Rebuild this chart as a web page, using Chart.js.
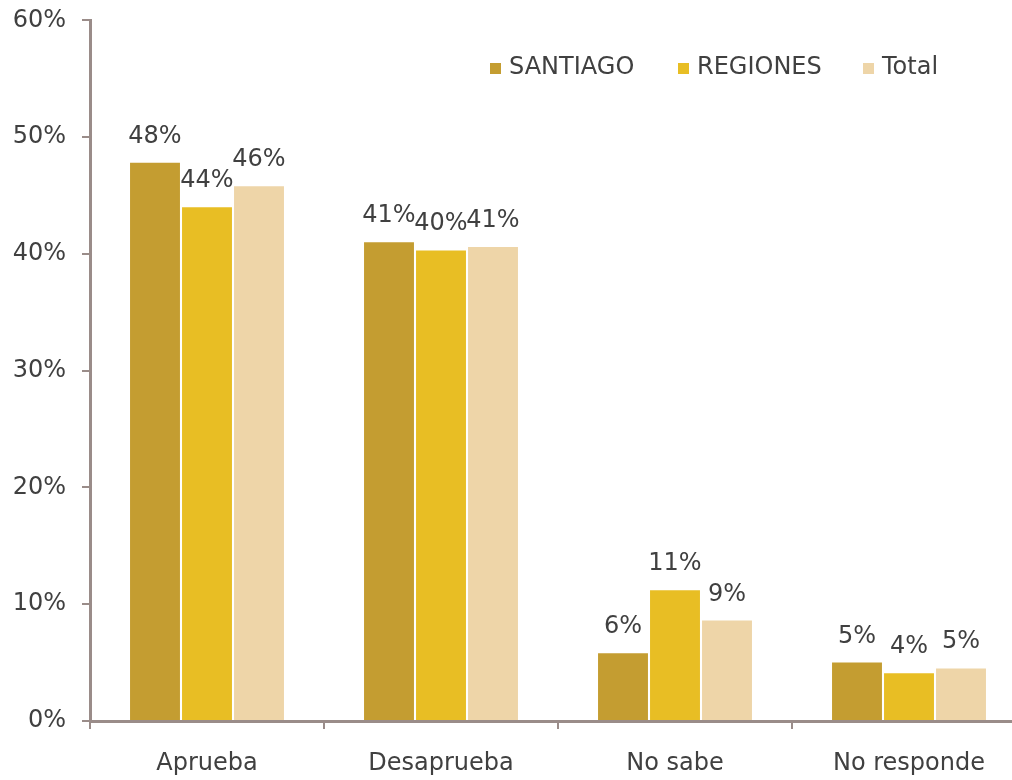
<!DOCTYPE html>
<html><head><meta charset="utf-8">
<script src="https://cdn.jsdelivr.net/npm/chart.js@4"></script>
<style>html,body{margin:0;padding:0;overflow:hidden;background:#fff;width:1012px;height:780px}
#wrap{width:1030px;height:790px;position:relative;margin-top:-10px}</style>
</head><body><div id="wrap"><canvas id="c" width="1030" height="790"></canvas></div>
<script>
const categories = ["Aprueba", "Desaprueba", "No sabe", "No responde"];
const santiago = [47.8, 41.0, 5.8, 5.0];
const regiones = [44.0, 40.3, 11.2, 4.1];
const total = [45.8, 40.6, 8.6, 4.5];
const seriesNames = ["SANTIAGO", "REGIONES", "Total"];
const yTicks = [0, 10, 20, 30, 40, 50, 60];

const FONT = "DejaVu Sans";
const FS = 24;
const TXT = "#404040";
const AXIS = "#9a8c89";
const colors = ["#C49D31", "#E8BE24", "#EED5A8"];

const labelPlugin = {
  id: "vals",
  afterDatasetsDraw(chart) {
    const ctx = chart.ctx;
    ctx.save();
    ctx.font = FS + "px " + FONT;
    ctx.fillStyle = TXT;
    ctx.textAlign = "center";
    ctx.textBaseline = "alphabetic";
    chart.data.datasets.forEach((ds, i) => {
      chart.getDatasetMeta(i).data.forEach((bar, j) => {
        ctx.fillText(Math.round(ds.data[j]) + "%", bar.x, bar.y - 20);
      });
    });
    ctx.restore();
  }
};
const legendX = [490, 678, 863];
const legendPlugin = {
  id: "leg",
  afterDraw(chart) {
    const ctx = chart.ctx;
    ctx.save();
    ctx.font = FS + "px " + FONT;
    ctx.textBaseline = "middle";
    const y = 78;
    chart.data.datasets.forEach((ds, i) => {
      const x = legendX[i];
      ctx.fillStyle = ds.backgroundColor;
      ctx.fillRect(x, y - 5, 11, 11);
      ctx.fillStyle = TXT;
      ctx.fillText(ds.label, x + 19, y);
    });
    ctx.restore();
  }
};

new Chart(document.getElementById("c"), {
  type: "bar",
  data: {
    labels: categories,
    datasets: [
      { label: seriesNames[0], data: santiago, backgroundColor: colors[0] },
      { label: seriesNames[1], data: regiones, backgroundColor: colors[1] },
      { label: seriesNames[2], data: total, backgroundColor: colors[2] }
    ]
  },
  options: {
    responsive: false,
    animation: false,
    devicePixelRatio: 1,
    layout: { padding: { top: 8, right: 4, left: 0, bottom: 0 } },
    datasets: { bar: { categoryPercentage: 0.6667, barPercentage: 0.96 } },
    plugins: { legend: { display: false }, tooltip: { enabled: false } },
    scales: {
      x: {
        grid: { offset: true, drawOnChartArea: false, drawTicks: true, tickLength: 8, color: AXIS, lineWidth: 2 },
        border: { color: AXIS, width: 3 },
        ticks: { color: TXT, font: { family: FONT, size: FS }, padding: 20 },
        afterFit(s) { s.height = 59; }
      },
      y: {
        min: 0, max: 60,
        afterBuildTicks(s) { s.ticks = yTicks.map(v => ({ value: v })); },
        grid: { drawOnChartArea: false, drawTicks: true, tickLength: 8, color: AXIS, lineWidth: 2 },
        border: { color: AXIS, width: 3 },
        ticks: { color: TXT, font: { family: FONT, size: FS }, padding: 16, callback: v => v + "%" },
        afterFit(s) { s.width = 90; }
      }
    }
  },
  plugins: [labelPlugin, legendPlugin]
});
</script></body></html>
